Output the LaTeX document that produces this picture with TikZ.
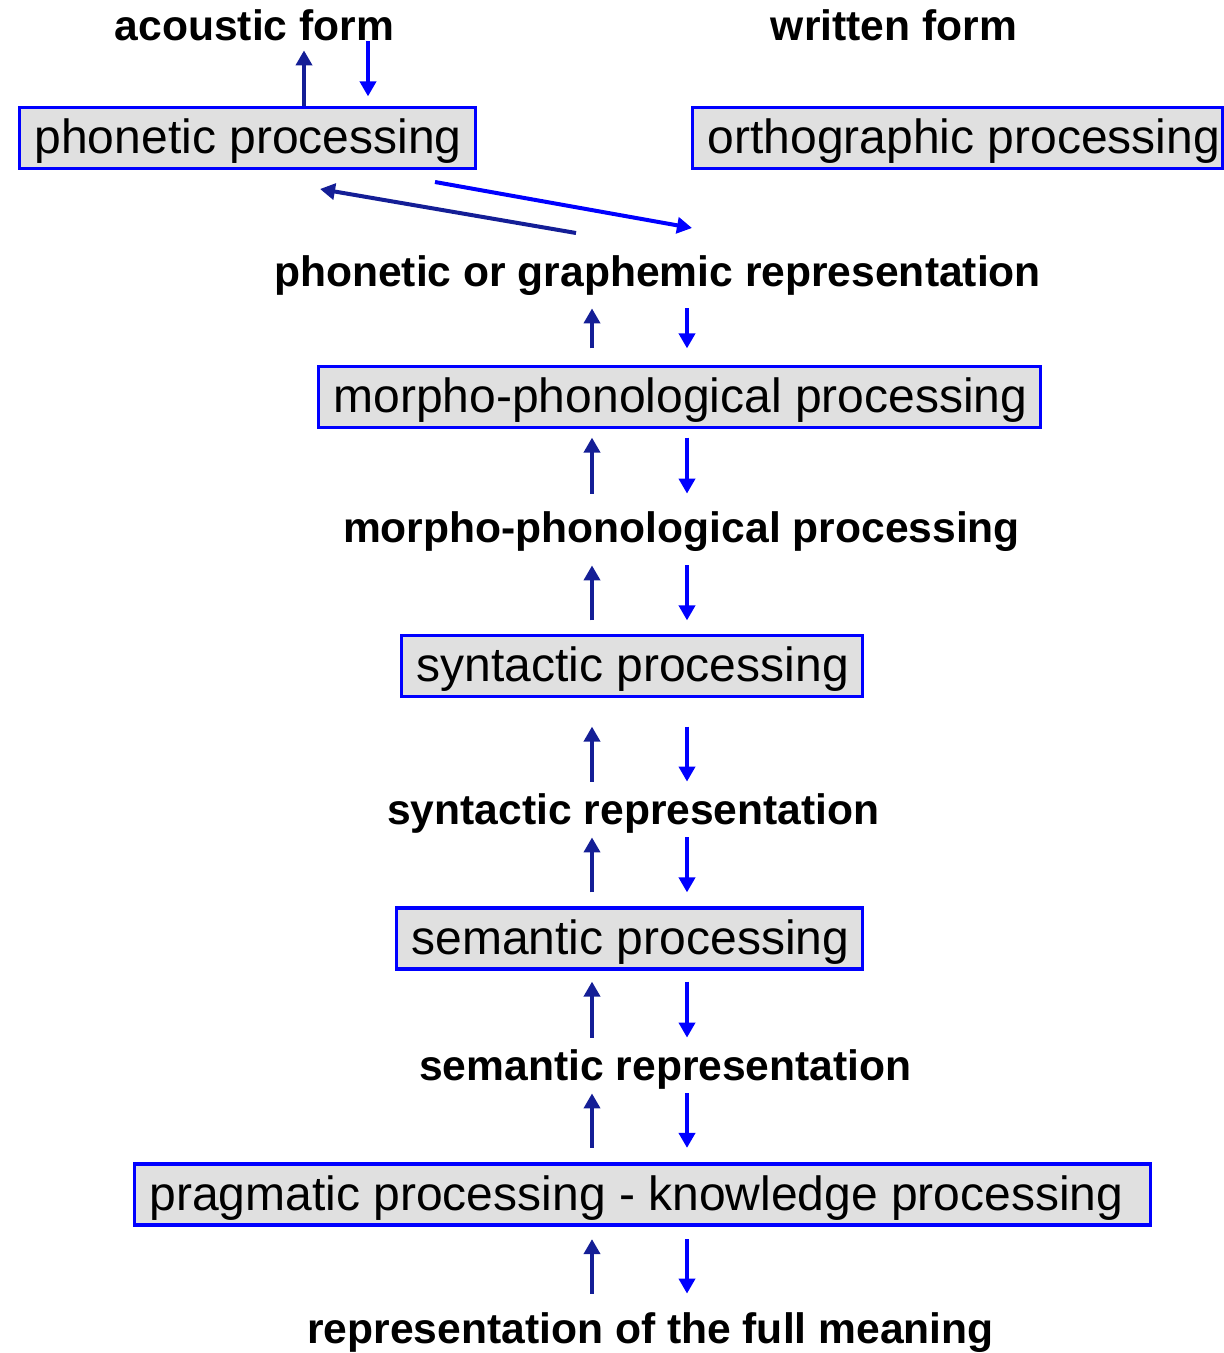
\documentclass[tikz,border=0pt]{standalone}
\usepackage{fontspec}
\setmainfont{Liberation Sans}
\usetikzlibrary{arrows.meta}
\definecolor{boxblue}{RGB}{0,0,255}
\definecolor{boxfill}{RGB}{224,224,224}
\definecolor{upblue}{RGB}{20,30,150}
\definecolor{downblue}{RGB}{0,0,255}
\tikzset{
  stagebox/.style={draw=boxblue, fill=boxfill, line width=1.6pt, minimum height=30.5pt,
    inner xsep=7.75pt, inner ysep=0pt, text height=20pt, text depth=4.5pt,
    font=\fontsize{24pt}{28pt}\selectfont, anchor=west},
  levellabel/.style={inner sep=0pt, text height=15pt, text depth=4.5pt,
    font=\fontsize{21.3pt}{25pt}\selectfont\bfseries, anchor=base},
  uparrow/.style={draw=upblue, line width=2pt, -{Triangle[length=7.5pt,width=8pt]}},
  downarrow/.style={draw=downblue, line width=2pt, -{Triangle[length=7.5pt,width=8pt]}},
}
% a pair of arrows between two stacked levels: up on the left, down on the right
\newcommand\stagepair[4]{%
  \draw[uparrow, shorten <=#4, shorten >=#3] (#2 -| upcol) -- (#1 -| upcol);
  \draw[downarrow, shorten <=#3, shorten >=#4] (#1 -| downcol) -- (#2 -| downcol);}
\begin{document}
\begin{tikzpicture}[x=0.5pt, y=-0.5pt]
\useasboundingbox (0,0) rectangle (1223,1353);

% level labels
\node[levellabel] (acoustic) at (254.5,41) {acoustic form};
\node[levellabel] (written) at (894,41) {written form};
\node[levellabel] (phonrep) at (657.5,287) {phonetic or graphemic representation};
\node[levellabel] (morphlbl) at (681.5,542) {morpho-phonological processing};
\node[levellabel] (synrep) at (633.5,824) {syntactic representation};
\node[levellabel] (semrep) at (665.5,1080) {semantic representation};
\node[levellabel] (fullrep) at (650.5,1343) {representation of the full meaning};

% processing stages
\node[stagebox] (phon) at (17.5,138) {\makebox[212.5pt][l]{phonetic processing}};
\node[stagebox] (ortho) at (690.5,138) {\makebox[249.75pt][l]{orthographic processing}};
\node[stagebox] (morph) at (316.5,397) {\makebox[345.5pt][l]{morpho-phonological processing}};
\node[stagebox] (syn) at (399.5,666) {\makebox[215pt][l]{syntactic processing}};
\node[stagebox] (sem) at (394.5,938.5) {\makebox[217.5pt][l]{semantic processing}};
\node[stagebox] (prag) at (132.5,1194.5) {\makebox[492.5pt][l]{pragmatic processing - knowledge processing}};

% arrow columns
\coordinate (upcol) at (592,0);
\coordinate (downcol) at (687,0);
\coordinate (acUp) at (304,0);
\coordinate (acDown) at (368,0);

% acoustic form <-> phonetic processing
\draw[uparrow] (phon.north -| acUp) -- (acoustic.south -| acUp);
\draw[downarrow, shorten <=-4.5pt, shorten >=4.75pt] (acoustic.south -| acDown) -- (phon.north -| acDown);

% phonetic processing <-> phonetic or graphemic representation
\coordinate (fromPhon) at (435,182);
\coordinate (toRep) at (692,228);
\coordinate (fromRep) at (576,233);
\coordinate (toPhon) at (320,189);
\draw[downarrow] (fromPhon) -- (toRep);
\draw[uparrow] (fromRep) -- (toPhon);

% vertical chain
\stagepair{phonrep.south}{morph.north}{6pt}{8.25pt}
\stagepair{morph.south}{morphlbl.north}{4.25pt}{9pt}
\stagepair{morphlbl.south}{syn.north}{7pt}{6.75pt}
\stagepair{syn.south}{synrep.north}{14.25pt}{6pt}
\stagepair{synrep.south}{sem.north}{2pt}{7pt}
\stagepair{sem.south}{semrep.north}{5.5pt}{6pt}
\stagepair{semrep.south}{prag.north}{2pt}{7.25pt}
\stagepair{prag.south}{fullrep.north}{6.25pt}{9.5pt}
\end{tikzpicture}
\end{document}
